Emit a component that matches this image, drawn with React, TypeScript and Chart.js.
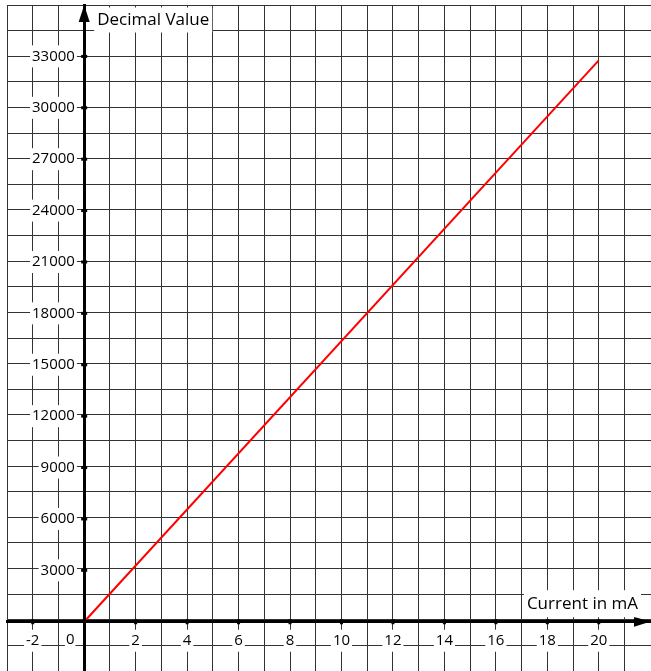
import React, { useEffect, useRef } from 'react';
import { Chart, registerables } from 'chart.js';

Chart.register(...registerables);

// ---- data ----
const CURRENT_MA = [0, 20];
const DECIMAL_VALUE = [0, 32767];
const X_LABEL_TICKS = [-2, 0, 2, 4, 6, 8, 10, 12, 14, 16, 18, 20];
const Y_LABEL_TICKS = [3000, 6000, 9000, 12000, 15000, 18000, 21000, 24000, 27000, 30000, 33000];
const X_TITLE = 'Current in mA';
const Y_TITLE = 'Decimal Value';

const X_MIN = -3;
const X_MAX = 22.03;
const Y_MIN = -2876;
const Y_MAX = 36000;
const X_GRID_STEP = 1;
const Y_GRID_STEP = 1500;
// y tick labels sit a little left of the y axis (x = 0)
const Y_LABEL_ANCHOR_X = -0.36;

const FONT_FAMILY = '"Open Sans", "DejaVu Sans", sans-serif';
const TICK_SIZE = 15;
const TITLE_SIZE = 17;
const GRID_COLOR = '#333333';

const zeroSize = (scale: any) => {
  if (scale.isHorizontal()) scale.height = 0;
  else scale.width = 0;
  scale.paddingTop = 0;
  scale.paddingBottom = 0;
  scale.paddingLeft = 0;
  scale.paddingRight = 0;
};

const drawBoxedText = (
  ctx: CanvasRenderingContext2D,
  text: string,
  x: number,
  yMid: number,
  align: 'left' | 'right' | 'center',
  padX: number,
  boxH: number
) => {
  const w = ctx.measureText(text).width;
  let left = x;
  if (align === 'right') left = x - w;
  if (align === 'center') left = x - w / 2;
  ctx.fillStyle = '#ffffff';
  ctx.fillRect(left - padX, yMid - boxH / 2, w + padX * 2, boxH);
  ctx.fillStyle = '#000000';
  ctx.textAlign = 'left';
  ctx.textBaseline = 'middle';
  ctx.fillText(text, left, yMid);
};

const axisDecor = {
  id: 'axisDecor',
  afterDraw(chart: any) {
    const { ctx, chartArea, scales } = chart;
    const x = scales.x;
    const y = scales.y;
    const x0 = x.getPixelForValue(0);
    const y0 = y.getPixelForValue(0);
    ctx.save();
    ctx.fillStyle = '#000';
    // y arrow
    ctx.beginPath();
    ctx.moveTo(x0, chartArea.top);
    ctx.lineTo(x0 - 5.5, chartArea.top + 17);
    ctx.lineTo(x0 + 5.5, chartArea.top + 17);
    ctx.closePath();
    ctx.fill();
    // x arrow
    ctx.beginPath();
    ctx.moveTo(chartArea.right - 1, y0);
    ctx.lineTo(chartArea.right - 17, y0 - 5);
    ctx.lineTo(chartArea.right - 17, y0 + 5);
    ctx.closePath();
    ctx.fill();
    // tick dots
    X_LABEL_TICKS.forEach((v) => {
      if (v === 0) return;
      const px = x.getPixelForValue(v);
      ctx.fillRect(px - 1.5, y0 - 2.5, 3, 5);
    });
    Y_LABEL_TICKS.forEach((v) => {
      const py = y.getPixelForValue(v);
      ctx.fillRect(x0 - 3, py - 1.5, 6, 3);
    });
    // origin label
    ctx.font = `${TICK_SIZE}px ${FONT_FAMILY}`;
    drawBoxedText(ctx, '0', x0 - 14, y0 + 18, 'center', 1, 22);
    // axis titles
    ctx.font = `${TITLE_SIZE}px ${FONT_FAMILY}`;
    drawBoxedText(ctx, Y_TITLE, x0 + 13, chartArea.top + 15, 'left', 3, 25);
    drawBoxedText(ctx, X_TITLE, chartArea.right - 13, y0 - 18, 'right', 3, 27);
    ctx.restore();
  },
};

export default function App() {
  const canvasRef = useRef<HTMLCanvasElement | null>(null);

  useEffect(() => {
    document.body.style.margin = '0';
    const canvas = canvasRef.current;
    if (!canvas) return;
    const labelFont = { family: FONT_FAMILY, size: TICK_SIZE };
    const chart = new Chart(canvas, {
      type: 'line',
      data: {
        datasets: [
          {
            data: CURRENT_MA.map((c, i) => ({ x: c, y: DECIMAL_VALUE[i] })),
            borderColor: '#ff0000',
            borderWidth: 2,
            pointRadius: 0,
            fill: false,
            tension: 0,
          },
        ],
      },
      options: {
        responsive: false,
        devicePixelRatio: 1,
        animation: false,
        layout: { padding: { left: 7, top: 5, right: 0, bottom: 0 } },
        plugins: { legend: { display: false }, tooltip: { enabled: false } },
        scales: {
          x: {
            type: 'linear',
            min: X_MIN,
            max: X_MAX,
            position: { y: 0 },
            afterFit: zeroSize,
            ticks: { display: false, stepSize: X_GRID_STEP, includeBounds: false },
            grid: {
              z: -2,
              drawTicks: false,
              lineWidth: 1,
              color: (ctx: any) => (ctx.tick && ctx.tick.value > 21 ? 'rgba(0,0,0,0)' : GRID_COLOR),
            },
            border: { display: true, color: '#000', width: 3, z: 1 },
          },
          y: {
            type: 'linear',
            min: Y_MIN,
            max: Y_MAX,
            position: { x: 0 },
            afterFit: zeroSize,
            ticks: { display: false, stepSize: Y_GRID_STEP, includeBounds: false },
            grid: { z: -2, drawTicks: false, lineWidth: 1, color: GRID_COLOR },
            border: { display: true, color: '#000', width: 3, z: 1 },
          },
          xl: {
            type: 'linear',
            axis: 'x',
            min: X_MIN,
            max: X_MAX,
            position: { y: 0 },
            afterFit: zeroSize,
            afterBuildTicks: (scale: any) => {
              scale.ticks = X_LABEL_TICKS.filter((v) => v !== 0).map((v) => ({ value: v }));
            },
            ticks: {
              z: -1,
              autoSkip: false,
              maxRotation: 0,
              padding: 10,
              color: '#000',
              font: labelFont,
              callback: (v: any) => String(v),
              showLabelBackdrop: true,
              backdropColor: '#ffffff',
              backdropPadding: 2,
            },
            grid: { display: false, drawTicks: false, drawOnChartArea: false },
            border: { display: false },
          },
          yl: {
            type: 'linear',
            axis: 'y',
            min: Y_MIN,
            max: Y_MAX,
            position: { x: Y_LABEL_ANCHOR_X },
            afterFit: zeroSize,
            afterBuildTicks: (scale: any) => {
              scale.ticks = Y_LABEL_TICKS.map((v) => ({ value: v }));
            },
            ticks: {
              z: -1,
              autoSkip: false,
              padding: 0,
              color: '#000',
              font: labelFont,
              callback: (v: any) => String(v),
              showLabelBackdrop: true,
              backdropColor: '#ffffff',
              backdropPadding: 2,
            },
            grid: { display: false, drawTicks: false, drawOnChartArea: false },
            border: { display: false },
          },
        },
      },
      plugins: [axisDecor],
    } as any);
    return () => chart.destroy();
  }, []);

  return (
    <div style={{ position: 'absolute', left: 0, top: 0, width: 651, height: 671 }}>
      <canvas ref={canvasRef} width={651} height={671} style={{ display: 'block', width: 651, height: 671 }} />
    </div>
  );
}
